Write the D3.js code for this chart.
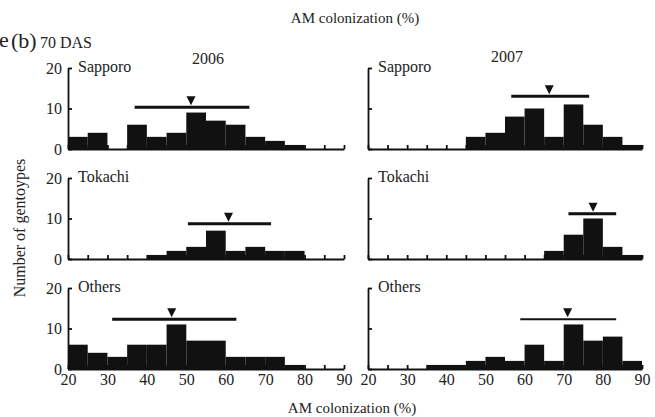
<!DOCTYPE html>
<html>
<head>
<meta charset="utf-8">
<script src="https://cdn.jsdelivr.net/npm/d3@7"></script>
<style>
  body { margin: 0; background: #fff; }
  svg text { font-family: "Liberation Serif", "DejaVu Serif", serif; fill: #222; }
</style>
</head>
<body>
<svg id="chart" width="655" height="417"></svg>
<script>
// bin starts (each bin is 5 % wide)
const binStart = [20, 25, 30, 35, 40, 45, 50, 55, 60, 65, 70, 75, 80, 85];
const locations = ["Sapporo", "Tokachi", "Others"];
const years = ["2006", "2007"];

// number of genotypes per bin
const sapporo2006 = [3, 4, 0, 6, 3, 4, 9, 7, 6, 3, 2, 1, 0, 0];
const sapporo2007 = [0, 0, 0, 0, 0, 3, 4, 8, 10, 3, 11, 6, 3, 1];
const tokachi2006 = [0, 0, 0, 0, 1, 2, 3, 7, 2, 3, 2, 2, 0, 0];
const tokachi2007 = [0, 0, 0, 0, 0, 0, 0, 0, 0, 2, 6, 10, 3, 1];
const others2006 = [6, 4, 3, 6, 6, 11, 7, 7, 3, 3, 3, 1, 0, 0];
const others2007 = [0, 0, 0, 1, 1, 2, 3, 2, 6, 2, 11, 7, 8, 2];

// mean (triangle), range bar ends and bar height, per location
const mean2006 = [51.2, 60.7, 46.3];
const mean2007 = [66.3, 77.5, 71.0];
const rangeLo2006 = [36.9, 50.4, 31.2];
const rangeHi2006 = [66.0, 71.5, 62.7];
const rangeLo2007 = [56.6, 71.2, 58.9];
const rangeHi2007 = [76.5, 83.4, 83.4];
const rangeY2006 = [10.3, 8.7, 12.3];
const rangeY2007 = [13.0, 11.2, 12.3];

const xTicks = [20, 25, 30, 35, 40, 45, 50, 55, 60, 65, 70, 75, 80, 85, 90];
const yTicks = [0, 10, 20];

const counts = [[sapporo2006, sapporo2007], [tokachi2006, tokachi2007], [others2006, others2007]];
const means = [mean2006, mean2007];
const rangeLo = [rangeLo2006, rangeLo2007];
const rangeHi = [rangeHi2006, rangeHi2007];
const rangeY = [rangeY2006, rangeY2007];

const svg = d3.select("#chart");
const colX = [[68, 344], [368, 642]];
const rowBase = [149, 259, 369];
const rowH = 81;
const ink = "#111";

for (let c = 0; c < 2; c++) {
  const x = d3.scaleLinear().domain([20, 90]).range(colX[c]);
  for (let r = 0; r < 3; r++) {
    const y = d3.scaleLinear().domain([0, 20]).range([rowBase[r], rowBase[r] - rowH]);
    const g = svg.append("g");
    const data = counts[r][c];

    g.selectAll("rect.bar")
      .data(binStart.map((b, i) => ({ b: b, v: data[i] })).filter(d => d.v > 0))
      .enter()
      .append("rect")
      .attr("class", "bar")
      .attr("x", d => x(d.b))
      .attr("width", d => x(d.b + 5) - x(d.b))
      .attr("y", d => y(d.v))
      .attr("height", d => y(0) - y(d.v))
      .attr("fill", ink);

    // x axis
    const xa = g.append("g")
      .attr("transform", "translate(0," + rowBase[r] + ")")
      .call(d3.axisBottom(x).tickValues(xTicks).tickSizeInner(-4).tickSizeOuter(0).tickPadding(5)
        .tickFormat(d => (r == 2 && d % 10 == 0) ? d : ""));
    // y axis
    const ya = g.append("g")
      .attr("transform", "translate(" + colX[c][0] + ",0)")
      .call(d3.axisLeft(y).tickValues(yTicks).tickSizeInner(-4).tickSizeOuter(0).tickPadding(6)
        .tickFormat(d => c == 0 ? d : ""));
    [xa, ya].forEach(a => {
      a.selectAll("path, line").attr("stroke", ink).attr("stroke-width", 1.8);
      a.selectAll("text").attr("font-size", 16).attr("fill", "#222")
        .attr("font-family", "Liberation Serif, serif");
    });

    // range bar + mean triangle
    const ly = y(rangeY[c][r]);
    g.append("line")
      .attr("x1", x(rangeLo[c][r])).attr("x2", x(rangeHi[c][r]))
      .attr("y1", ly).attr("y2", ly)
      .attr("stroke", ink).attr("stroke-width", (c == 1 && r == 2) ? 2 : 3);
    const mx = x(means[c][r]);
    g.append("path")
      .attr("d", "M" + (mx - 4.5) + "," + (ly - 11) + "L" + (mx + 4.5) + "," + (ly - 11) + "L" + mx + "," + (ly - 2) + "Z")
      .attr("fill", ink);

    g.append("text")
      .attr("x", colX[c][0] + 10)
      .attr("y", y(20) + 4)
      .attr("font-size", 16)
      .text(locations[r]);
  }
}

// titles and labels
svg.append("text").attr("x", 355).attr("y", 23).attr("text-anchor", "middle")
  .attr("font-size", 15).text("AM colonization (%)");
svg.append("text").attr("x", 352).attr("y", 413).attr("text-anchor", "middle")
  .attr("font-size", 15).text("AM colonization (%)");
svg.append("text").attr("x", -1).attr("y", 47).attr("font-size", 22).text("e");
svg.append("text").attr("x", 11).attr("y", 48).attr("font-size", 22).text("(b)");
svg.append("text").attr("x", 40).attr("y", 48).attr("font-size", 16).text("70 DAS");
svg.append("text").attr("x", 208).attr("y", 64).attr("text-anchor", "middle")
  .attr("font-size", 16).text(years[0]);
svg.append("text").attr("x", 507).attr("y", 62).attr("text-anchor", "middle")
  .attr("font-size", 16).text(years[1]);
svg.append("text")
  .attr("transform", "translate(25,228) rotate(-90)")
  .attr("text-anchor", "middle")
  .attr("font-size", 16)
  .text("Number of gentoypes");
</script>
</body>
</html>
